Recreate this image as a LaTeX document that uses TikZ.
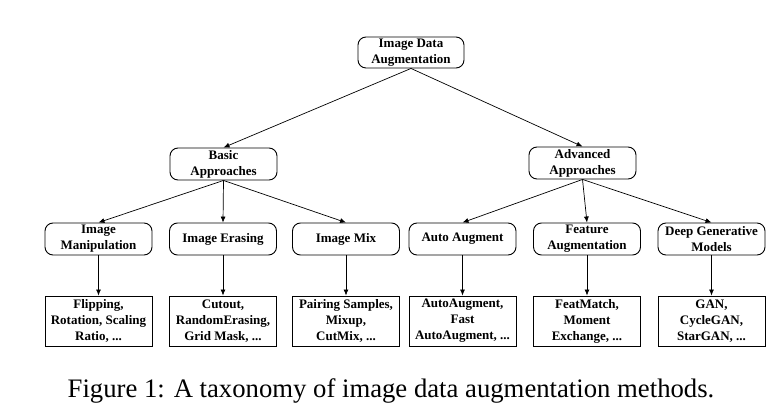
\documentclass[tikz,border=0pt]{standalone}
\usepackage{fontspec}
\setmainfont{Liberation Serif}
\usetikzlibrary{arrows.meta}
\begin{document}
\begin{tikzpicture}[x=1pt,y=-1pt,
  catbox/.style={draw, rounded corners=8pt, line width=0.9pt, minimum width=107pt, minimum height=32pt, inner sep=0pt, align=center, font=\fontsize{13}{16}\selectfont\bfseries},
  leafbox/.style={draw, line width=0.9pt, minimum width=107pt, minimum height=50pt, inner sep=0pt, align=center, font=\fontsize{13}{16}\selectfont\bfseries},
  conn/.style={line width=0.7pt, -{Latex[length=6pt,width=5pt]}}]
\useasboundingbox (0,0) rectangle (777,419);
\node[catbox, minimum width=106pt, minimum height=31pt] (root) at (411,52.5) {Image Data\\Augmentation};
\node[catbox] (basic) at (223.5,164) {Basic\\Approaches};
\node[catbox] (adv) at (582.5,163) {Advanced\\Approaches};
\node[catbox] (man) at (98.5,239) {Image\\Manipulation};
\node[catbox] (era) at (223,239) {Image Erasing};
\node[catbox] (mix) at (346,239) {Image Mix};
\node[catbox] (auto) at (462.5,239) {Auto Augment};
\node[catbox] (feat) at (587,239) {Feature\\Augmentation};
\node[catbox] (gen) at (711.5,239) {Deep Generative\\Models};
\node[leafbox] (lman) at (98.5,321) {Flipping,\\Rotation, Scaling\\Ratio, ...};
\node[leafbox] (lera) at (223,321) {Cutout,\\RandomErasing,\\Grid Mask, ...};
\node[leafbox] (lmix) at (346,321) {Pairing Samples,\\Mixup,\\CutMix, ...};
\node[leafbox] (lauto) at (462.5,321) {AutoAugment,\\Fast\\AutoAugment, ...};
\node[leafbox] (lfeat) at (587,321) {FeatMatch,\\Moment\\Exchange, ...};
\node[leafbox] (lgen) at (711.5,321) {GAN,\\CycleGAN,\\StarGAN, ...};
\draw[conn] (root.south) -- (basic.north);
\draw[conn] (root.south) -- (adv.north);
\foreach \c in {man,era,mix} \draw[conn] (basic.south) -- (\c.north);
\foreach \c in {auto,feat,gen} \draw[conn] (adv.south) -- (\c.north);
\foreach \c in {man,era,mix,auto,feat,gen} \draw[conn] (\c.south) -- (l\c.north);
\node[anchor=base, inner sep=0pt, font=\fontsize{26.7}{30}\selectfont] (cap) at (391,398) {Figure 1: A taxonomy of image data augmentation methods.};
\end{tikzpicture}
\end{document}
